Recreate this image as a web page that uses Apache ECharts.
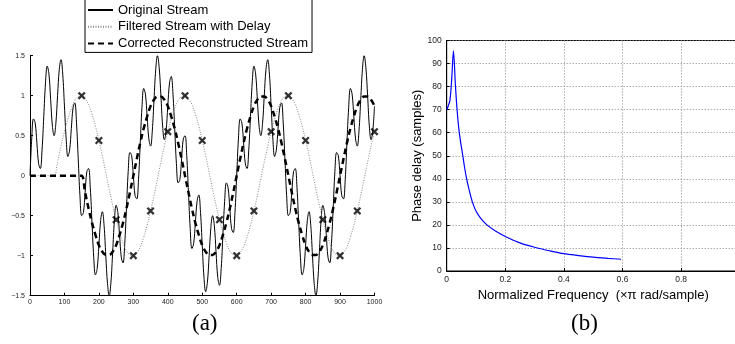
<!DOCTYPE html>
<html><head><meta charset="utf-8">
<script src="https://cdn.jsdelivr.net/npm/echarts@6/dist/echarts.min.js"></script>
<style>html,body{margin:0;padding:0;background:#fff}#c{width:735px;height:344px}</style>
</head><body><div id="c"></div>
<script>
// ---- Panel (a) data ----
var seriesNames = ['Original Stream', 'Filtered Stream with Delay', 'Corrected Reconstructed Stream'];
var origStep = 5; // sample spacing of original stream (x = index * step)
var originalStream = [
0,0.46,0.71,0.66,0.41,0.15,0.09,0.32,0.74,1.16,
1.37,1.27,0.95,0.62,0.5,0.65,1.0,1.33,1.45,1.27,
0.87,0.46,0.24,0.32,0.59,0.85,0.91,0.66,0.21,-0.25,
-0.5,-0.46,-0.21,0.05,0.09,-0.15,-0.59,-1.02,-1.24,-1.16,
-0.87,-0.56,-0.45,-0.62,-1.0,-1.35,-1.5,-1.33,-0.95,-0.56,
-0.37,-0.46,-0.74,-1.02,-1.09,-0.85,-0.41,0.05,0.29,0.25,
0,-0.25,-0.29,-0.05,0.41,0.85,1.09,1.02,0.74,0.46,
0.37,0.56,0.95,1.33,1.5,1.35,1.0,0.62,0.45,0.56,
0.87,1.16,1.24,1.02,0.59,0.15,-0.09,-0.05,0.21,0.46,
0.5,0.25,-0.21,-0.66,-0.91,-0.85,-0.59,-0.32,-0.24,-0.46,
-0.87,-1.27,-1.45,-1.33,-1.0,-0.65,-0.5,-0.62,-0.95,-1.27,
-1.37,-1.16,-0.74,-0.32,-0.09,-0.15,-0.41,-0.66,-0.71,-0.46,
0,0.46,0.71,0.66,0.41,0.15,0.09,0.32,0.74,1.16,
1.37,1.27,0.95,0.62,0.5,0.65,1.0,1.33,1.45,1.27,
0.87,0.46,0.24,0.32,0.59,0.85,0.91,0.66,0.21,-0.25,
-0.5,-0.46,-0.21,0.05,0.09,-0.15,-0.59,-1.02,-1.24,-1.16,
-0.87,-0.56,-0.45,-0.62,-1.0,-1.35,-1.5,-1.33,-0.95,-0.56,
-0.37,-0.46,-0.74,-1.02,-1.09,-0.85,-0.41,0.05,0.29,0.25,
0,-0.25,-0.29,-0.05,0.41,0.85,1.09,1.02,0.74,0.46,
0.37,0.56,0.95,1.33,1.5,1.35,1.0,0.62,0.45,0.56,
0.87
];
var lineStep = 10; // sample spacing of filtered / corrected streams
var filteredStream = [
0,0,0,0,0,0,0,0,
0.17,0.37,0.55,0.71,0.84,0.94,0.99,1.0,0.96,0.89,0.77,0.62,0.44,0.25,0.04,-0.17,-0.37,-0.55,-0.71,-0.84,-0.94,-0.99,-1.0,-0.96,-0.89,-0.77,-0.62,-0.44,-0.25,-0.04,
0.17,0.37,0.55,0.71,0.84,0.94,0.99,1.0,0.96,0.89,0.77,0.62,0.44,0.25,0.04,-0.17,-0.37,-0.55,-0.71,-0.84,-0.94,-0.99,-1.0,-0.96,-0.89,-0.77,-0.62,-0.44,-0.25,-0.04,
0.17,0.37,0.55,0.71,0.84,0.94,0.99,1.0,0.96,0.89,0.77,0.62,0.44,0.25,0.04,-0.17,-0.37,-0.55,-0.71,-0.84,-0.94,-0.99,-1.0,-0.96,-0.89,-0.77,-0.62,-0.44,-0.25,-0.04,
0.17,0.37,0.55
];
var correctedStream = [
0,0,0,0,0,0,0,0,0,0,0,0,0,0,0,
0,-0.21,-0.41,-0.59,-0.74,-0.87,-0.95,-0.99,-0.99,-0.95,-0.87,-0.74,-0.59,-0.41,-0.21,0,0.21,0.41,0.59,0.74,0.87,0.95,0.99,0.99,0.95,0.87,0.74,0.59,0.41,0.21,
0,-0.21,-0.41,-0.59,-0.74,-0.87,-0.95,-0.99,-0.99,-0.95,-0.87,-0.74,-0.59,-0.41,-0.21,0,0.21,0.41,0.59,0.74,0.87,0.95,0.99,0.99,0.95,0.87,0.74,0.59,0.41,0.21,
0,-0.21,-0.41,-0.59,-0.74,-0.87,-0.95,-0.99,-0.99,-0.95,-0.87,-0.74,-0.59,-0.41,-0.21,0,0.21,0.41,0.59,0.74,0.87,0.95,0.99,0.99,0.95,0.87
];
var markerX = [150,200,250,300,350,400,450,500,550,600,650,700,750,800,850,900,950,1000];
var markerY = [1,0.44,-0.55,-1,-0.44,0.55,1,0.44,-0.55,-1,-0.44,0.55,1,0.44,-0.55,-1,-0.44,0.55];

// ---- Panel (b) data ----
var freqX = [0,0.005,0.011,0.017,0.023,0.030,0.036,0.042,0.048,0.055,0.061,0.068,0.077,0.0875,0.1,0.115,0.137,0.165,0.2,0.25,0.3,0.35,0.4,0.45,0.5,0.55,0.595];
var phaseDelay = [70,71.5,74,83,95.5,80,69,61,55.5,50,45,40,35,30,26,23,20,17.5,15,12.2,10.3,8.8,7.5,6.7,6.0,5.5,5.1];

var captions = ['(a)', '(b)'];

function pairs(step, arr){ return arr.map(function(v,i){ return [i*step, v]; }); }
function zip(xs, ys){ return xs.map(function(x,i){ return [x, ys[i]]; }); }

var chart = echarts.init(document.getElementById('c'), null, {renderer:'canvas'});
var sans = 'Liberation Sans, Arial, Helvetica, sans-serif';
var crossPath = 'path://M2,0 L5,3 L8,0 L10,2 L7,5 L10,8 L8,10 L5,7 L2,10 L0,8 L3,5 L0,2 Z';

chart.setOption({
  animation:false,
  backgroundColor:'#fff',
  title: [
    {text:captions[0], left:187, top:307, textStyle:{fontFamily:'Liberation Serif, DejaVu Serif, serif', fontWeight:'normal', fontSize:23, color:'#000'}},
    {text:captions[1], left:566, top:307, textStyle:{fontFamily:'Liberation Serif, DejaVu Serif, serif', fontWeight:'normal', fontSize:23, color:'#000'}}
  ],
  legend: {
    data: seriesNames,
    orient:'vertical', left:85, top:-1,
    padding:[4,4,2,2], itemGap:2.7, itemWidth:25, itemHeight:14,
    borderColor:'#000', borderWidth:1, backgroundColor:'#fff',
    itemStyle:{opacity:0},
    textStyle:{fontSize:13, color:'#000', fontFamily:sans, lineHeight:14},
    selectedMode:false
  },
  grid: [
    {left:30, right:360.5, top:55.7, bottom:48.3, outerBoundsMode:'none'},
    {left:446.7, width:293, top:40.5, bottom:73, outerBoundsMode:'none', show:true, borderColor:'#000', borderWidth:1}
  ],
  xAxis: [
    {gridIndex:0, type:'value', min:0, max:1000, interval:100,
     axisLine:{onZero:false, lineStyle:{color:'#000', width:1}}, axisTick:{inside:true, length:3, lineStyle:{color:'#000'}},
     axisLabel:{fontSize:7, color:'#222', margin:3, fontFamily:sans, formatter:function(v){ return String(v); }}, splitLine:{show:false}},
    {gridIndex:1, type:'value', min:0, max:1, interval:0.2,
     name:'Normalized Frequency  (\u00d7\u03c0 rad/sample)', nameLocation:'middle', nameGap:15,
     nameTextStyle:{fontSize:13, color:'#000', fontFamily:sans},
     axisLine:{onZero:false, lineStyle:{color:'#000', width:1}}, axisTick:{inside:true, length:3, lineStyle:{color:'#000'}},
     axisLabel:{fontSize:8.5, color:'#222', margin:4, fontFamily:sans, formatter:function(v){ return String(v); }},
     splitLine:{show:true, lineStyle:{color:'#888', type:[1,2], width:1}}}
  ],
  yAxis: [
    {gridIndex:0, type:'value', min:-1.5, max:1.5, interval:0.5,
     axisLine:{show:true, onZero:false, lineStyle:{color:'#000', width:1}}, axisTick:{show:true, inside:true, length:3, lineStyle:{color:'#000'}},
     axisLabel:{fontSize:7, color:'#222', margin:5, fontFamily:sans, formatter:function(v){ return String(v).replace('-', '\u2212'); }},
     splitLine:{show:false}},
    {gridIndex:1, type:'value', min:0, max:100, interval:10,
     name:'Phase delay (samples)', nameLocation:'middle', nameGap:23,
     nameTextStyle:{fontSize:13, color:'#000', fontFamily:sans},
     axisLine:{show:true, onZero:false, lineStyle:{color:'#000', width:1}}, axisTick:{show:true, inside:true, length:3, lineStyle:{color:'#000'}},
     axisLabel:{fontSize:8.5, color:'#222', margin:5, fontFamily:sans},
     splitLine:{show:true, lineStyle:{color:'#888', type:[1,2], width:1}}}
  ],
  series: [
    {name:seriesNames[0], type:'line', xAxisIndex:0, yAxisIndex:0, data:pairs(origStep, originalStream),
     smooth:0.4, symbol:'none', lineStyle:{color:'#000', width:1}, itemStyle:{color:'#000'}},
    {name:seriesNames[1], type:'line', xAxisIndex:0, yAxisIndex:0, data:pairs(lineStep, filteredStream),
     smooth:0.4, symbol:'none', lineStyle:{color:'#888', width:1, type:[1,1.5]}, itemStyle:{color:'#888'}},
    {name:seriesNames[2], type:'line', xAxisIndex:0, yAxisIndex:0, data:pairs(lineStep, correctedStream),
     smooth:0.4, symbol:'none', lineStyle:{color:'#000', width:2.5, type:[6,4]}, itemStyle:{color:'#000'}},
    {name:'samples', type:'scatter', xAxisIndex:0, yAxisIndex:0, data:zip(markerX, markerY),
     symbol:crossPath, symbolSize:8, itemStyle:{color:'#000'}, z:5},
    {name:'phase', type:'line', xAxisIndex:1, yAxisIndex:1, data:zip(freqX, phaseDelay),
     smooth:0.3, symbol:'none', lineStyle:{color:'#0000ff', width:1.2}, itemStyle:{color:'#0000ff'}}
  ]
});
</script></body></html>
